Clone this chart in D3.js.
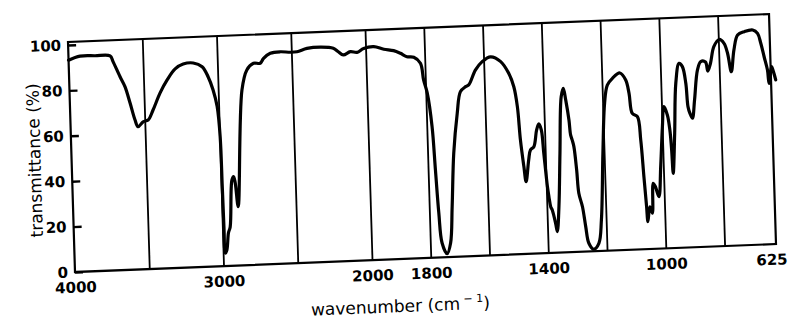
<!DOCTYPE html>
<html>
<head>
<meta charset="utf-8">
<script src="https://cdn.jsdelivr.net/npm/d3@7"></script>
<style>
  html, body { margin: 0; padding: 0; background: #fff; }
  svg { display: block; }
  text { font-family: "DejaVu Sans", "Liberation Sans", sans-serif; fill: #000; }
</style>
</head>
<body>
<svg id="chart" width="791" height="325"></svg>
<script>
// ---- data ----
const wavenumbers = [
  4000, 3922, 3821, 3720, 3701, 3657, 3626, 3595, 3565, 3546, 3511, 3477, 3442, 3391, 3341, 3285,
  3230, 3162, 3103, 3065, 3034, 3010, 2996, 2992, 2989, 2985, 2974, 2960, 2947, 2926, 2914, 2904,
  2889, 2840, 2803, 2757, 2712, 2688, 2642, 2574, 2507, 2462, 2394, 2304, 2217, 2184, 2151, 2103,
  2058, 2013, 1972, 1938, 1905, 1882, 1860, 1837, 1815, 1806, 1795, 1782, 1775, 1768, 1760, 1744,
  1731, 1722, 1711, 1695, 1682, 1664, 1653, 1629, 1605, 1576, 1542, 1516, 1500, 1490, 1483, 1474,
  1468, 1457, 1450, 1438, 1427, 1419, 1411, 1405, 1396, 1392, 1387, 1382, 1372, 1367, 1359, 1350,
  1340, 1332, 1325, 1316, 1312, 1307, 1302, 1295, 1290, 1279, 1270, 1261, 1245, 1227, 1216, 1204,
  1193, 1182, 1164, 1138, 1119, 1109, 1100, 1083, 1074, 1067, 1061, 1058, 1050, 1042, 1036, 1029,
  1018, 1009, 999, 992, 981, 974, 970, 967, 958, 949, 936, 925, 915, 910, 904, 896,
  887, 874, 862, 846, 839, 829, 816, 797, 781, 770, 759, 748, 734, 711, 682, 666,
  656, 646, 636, 632, 622, 616, 609
];
const transmittance = [
  93.3, 94.9, 94.8, 94.5, 91.9, 85.1, 80.7, 73.4, 65.8, 62.8, 64.9, 65.6, 69.9, 77.3, 82.9, 87.6,
  89.6, 89.9, 88.1, 83.6, 77.7, 70.3, 57.0, 35.0, 17.3, 5.7, 7.0, 14.5, 17.1, 37.7, 39.2, 36.3,
  25.9, 77.1, 85.9, 88.7, 88.6, 90.7, 92.8, 93.3, 92.9, 93.0, 94.3, 94.6, 93.9, 92.3, 90.8, 92.1,
  91.7, 93.3, 93.9, 92.6, 91.8, 90.5, 88.9, 88.5, 85.8, 78.4, 72.6, 57.7, 38.5, 19.6, 6.3, 1.5,
  6.2, 22.1, 45.7, 63.2, 72.6, 74.7, 75.4, 81.8, 85.4, 87.4, 85.1, 79.8, 73.8, 65.0, 50.3, 38.5,
  31.8, 41.3, 45.7, 47.1, 54.4, 57.0, 54.3, 44.1, 29.2, 24.8, 20.4, 18.9, 13.0, 9.3, 20.2, 43.8,
  68.6, 72.2, 67.1, 58.2, 51.6, 49.3, 46.4, 36.1, 25.8, 19.8, 11.0, 3.6, 0.9, 3.4, 13.7, 43.1,
  65.1, 72.9, 75.8, 78.0, 74.8, 68.9, 60.0, 58.5, 48.1, 31.9, 18.7, 12.1, 18.6, 15.8, 28.9, 27.3,
  22.9, 36.0, 53.6, 62.4, 58.7, 52.0, 43.2, 32.9, 50.5, 72.5, 81.2, 79.7, 72.3, 62.0, 59.0, 56.8,
  64.8, 78.0, 81.6, 81.3, 77.3, 80.7, 87.9, 91.0, 89.2, 84.8, 76.6, 86.1, 92.6, 94.0, 94.6, 93.0,
  88.6, 82.6, 76.7, 70.8, 78.1, 75.9, 72.2
];
const xTickLabels = [4000, 3000, 2000, 1800, 1400, 1000, 625];
const gridWavenumbers = [3500, 3000, 2500, 2000, 1800, 1600, 1400, 1200, 1000, 800];
const yTickValues = [0, 20, 40, 60, 80, 100];
const xTitle = "wavenumber (cm";
const yTitle = "transmittance (%)";

// ---- layout ----
const W = 701, H = 230;
const svg = d3.select("#chart");
// the scanned page is slightly skewed; reproduce it with an affine frame
const g = svg.append("g")
  .attr("transform", "matrix(1,-0.0399,0.0304,1,75,272)");

const x = d3.scaleLinear().domain([4000, 2000, 625]).range([0, 297, W]);
const y = d3.scaleLinear().domain([0, 100]).range([0, -227]);

// grid lines
g.append("g")
  .call(d3.axisBottom(x).tickValues(gridWavenumbers).tickSize(-H).tickFormat(""))
  .call(a => a.select(".domain").remove())
  .call(a => a.selectAll("line").attr("stroke", "#000").attr("stroke-width", 1.8));

// frame
g.append("rect")
  .attr("x", 0).attr("y", -H).attr("width", W).attr("height", H)
  .attr("fill", "none").attr("stroke", "#000").attr("stroke-width", 2.2);

// y axis ticks (inward)
g.append("g")
  .call(d3.axisLeft(y).tickValues(yTickValues).tickSize(-8).tickPadding(7).tickFormat(d3.format("d")))
  .call(a => a.select(".domain").remove())
  .call(a => a.selectAll("line").attr("stroke", "#000").attr("stroke-width", 2.4))
  .call(a => a.selectAll("text")
    .attr("font-family", "DejaVu Sans, sans-serif")
    .attr("font-weight", "bold")
    .attr("font-size", 15).attr("fill", "#000"));

// x axis labels
g.append("g")
  .call(d3.axisBottom(x).tickValues(xTickLabels).tickSize(0).tickPadding(10).tickFormat(d3.format("d")))
  .call(a => a.select(".domain").remove())
  .call(a => a.selectAll("text")
    .attr("font-family", "DejaVu Sans, sans-serif")
    .attr("font-weight", "bold")
    .attr("font-size", 15).attr("fill", "#000")
    .attr("dx", d => d === 625 ? -5 : 0));

// spectrum
const line = d3.line()
  .x((d, i) => x(wavenumbers[i]))
  .y(d => y(d))
  .curve(d3.curveCatmullRom.alpha(0.5));
g.append("path")
  .datum(transmittance)
  .attr("d", line)
  .attr("fill", "none")
  .attr("stroke", "#000")
  .attr("stroke-width", 3.2)
  .attr("stroke-linejoin", "round")
  .attr("stroke-linecap", "round");

// axis titles
const xt = g.append("text")
  .attr("x", 324).attr("y", 53)
  .attr("text-anchor", "middle")
  .attr("font-size", 17);
xt.append("tspan").text(xTitle);
xt.append("tspan").attr("dy", -7).attr("font-size", 11).text(" \u2212 1");
xt.append("tspan").attr("dy", 7).text(")");

g.append("text")
  .attr("transform", "translate(-31,-113) rotate(-90)")
  .attr("text-anchor", "middle")
  .attr("font-size", 17)
  .text(yTitle);
</script>
</body>
</html>
